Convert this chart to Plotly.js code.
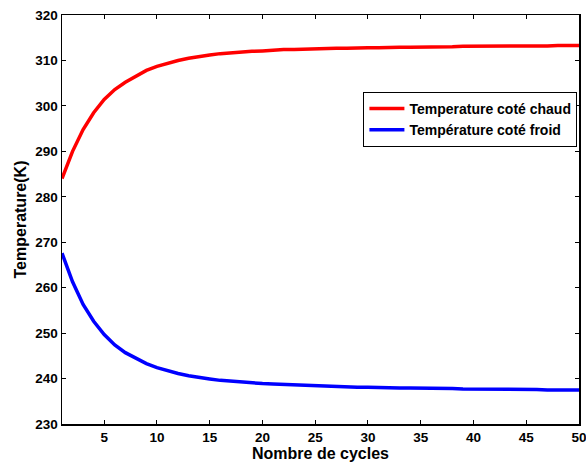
<!DOCTYPE html>
<html>
<head>
<meta charset="utf-8">
<script src="https://cdn.plot.ly/plotly-3.0.1.min.js"></script>
<style>html,body{margin:0;padding:0;background:#fff;}#chart{width:586px;height:462px;}</style>
</head>
<body>
<div id="chart"></div>
<script>
const cycles = [1,2,3,4,5,6,7,8,9,10,11,12,13,14,15,16,17,18,19,20,21,22,23,24,25,26,27,28,29,30,31,32,33,34,35,36,37,38,39,40,41,42,43,44,45,46,47,48,49,50];
const tempChaud = [284.0,290.0,294.8,298.5,301.4,303.6,305.2,306.6,307.8,308.7,309.4,310.0,310.5,310.9,311.2,311.5,311.7,311.9,312.0,312.1,312.3,312.4,312.4,312.5,312.6,312.6,312.7,312.7,312.8,312.8,312.8,312.9,312.9,312.9,312.9,313.0,313.0,313.0,313.1,313.1,313.1,313.1,313.1,313.1,313.2,313.2,313.2,313.3,313.3,313.3];
const tempFroid = [267.6,261.3,256.3,252.6,249.7,247.4,245.7,244.4,243.3,242.4,241.7,241.1,240.6,240.2,239.9,239.6,239.4,239.2,239.0,238.9,238.8,238.7,238.6,238.5,238.4,238.3,238.3,238.2,238.1,238.1,238.0,238.0,237.9,237.9,237.9,237.8,237.8,237.8,237.7,237.7,237.7,237.7,237.6,237.6,237.6,237.6,237.5,237.5,237.5,237.5];
const xTicks = [5,10,15,20,25,30,35,40,45,50];
const yTicks = [230,240,250,260,270,280,290,300,310,320];
const names = ['Temperature coté chaud','Température coté froid'];

const fam = 'Liberation Sans, Arial, sans-serif';
const tickFont = {family:fam, size:13.5, color:'#000', weight:'bold'};
const titleFont = {family:fam, size:16, color:'#000', weight:'bold'};
const axisCommon = {
  showgrid:false, zeroline:false, showline:true, linecolor:'#000', linewidth:1.5,
  mirror:'ticks', ticks:'inside', ticklen:4, tickwidth:1, tickcolor:'#000',
  tickfont:tickFont, ticklabeloverflow:'allow'
};
const data = [
  {x:cycles, y:tempChaud, type:'scatter', mode:'lines', name:names[0], line:{color:'#ff0000', width:3.5}},
  {x:cycles, y:tempFroid, type:'scatter', mode:'lines', name:names[1], line:{color:'#0000ff', width:3.5}}
];
const layout = {
  width:586, height:462,
  margin:{l:62, r:7, t:15, b:38},
  paper_bgcolor:'#fff', plot_bgcolor:'#fff',
  font:tickFont,
  showlegend:true,
  legend:{x:0.583, y:0.812, xanchor:'left', yanchor:'top', bordercolor:'#000', borderwidth:1, bgcolor:'#fff',
    font:{family:fam, size:14, color:'#000', weight:'bold'}, tracegroupgap:0, itemwidth:35},
  xaxis:Object.assign({}, axisCommon, {range:[1,50], tickvals:xTicks, ticktext:xTicks.map(String),
    title:{text:'Nombre de cycles', font:titleFont, standoff:0}}),
  yaxis:Object.assign({}, axisCommon, {range:[230,320], tickvals:yTicks, ticktext:yTicks.map(String),
    title:{text:'Temperature(K)', font:titleFont, standoff:4}})
};
Plotly.newPlot('chart', data, layout, {displayModeBar:false, staticPlot:true});
</script>
</body>
</html>
